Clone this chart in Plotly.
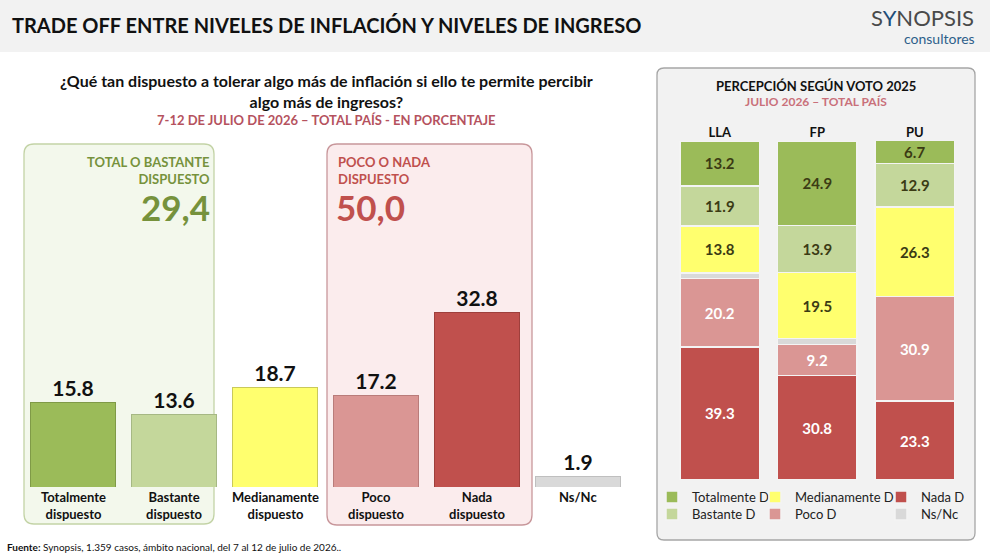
import plotly.graph_objects as go

# ---------------- data ----------------
left_cats = ["Totalmente dispuesto", "Bastante dispuesto", "Medianamente dispuesto",
             "Poco dispuesto", "Nada dispuesto", "Ns/Nc"]
left_ticks = ["Totalmente<br>dispuesto", "Bastante<br>dispuesto", "Medianamente<br>dispuesto",
              "Poco<br>dispuesto", "Nada<br>dispuesto", "Ns/Nc"]
left_vals = [15.8, 13.6, 18.7, 17.2, 32.8, 1.9]

parties = ["LLA", "FP", "PU"]
seg_names = ["Nada D", "Poco D", "Ns/Nc", "Medianamente D", "Bastante D", "Totalmente D"]
nada = [39.3, 30.8, 23.3]
poco = [20.2, 9.2, 30.9]
nsnc = [1.6, 1.7, 0.0]
mediana = [13.8, 19.5, 26.3]
bastante = [11.9, 13.9, 12.9]
totalmente = [13.2, 24.9, 6.7]

group_green_label = "TOTAL O BASTANTE<br>DISPUESTO"
group_green_value = "29,4"
group_red_label = "POCO O NADA<br>DISPUESTO"
group_red_value = "50,0"

# ---------------- styles ----------------
C_TOT, C_BAS, C_MED, C_POC, C_NAD, C_NS = "#9bbb59", "#c4d79b", "#ffff6e", "#da9694", "#c0504d", "#d9d9d9"
left_colors = [C_TOT, C_BAS, C_MED, C_POC, C_NAD, C_NS]
left_lines = ["#7f9a47", "#a6b884", "#c9c95a", "#b97c7a", "#9e3f3c", "#bfbfbf"]
W, H = 990, 556
FONT = "Lato, 'Open Sans', sans-serif"

def px(x):
    return x / W

def py(y):
    return 1 - y / H

fig = go.Figure()

# left bars
fig.add_trace(go.Bar(
    x=list(range(len(left_cats))), y=left_vals, width=0.84,
    marker=dict(color=left_colors, line=dict(color=left_lines, width=1)),
    texttemplate="<b>%{y:.1f}</b>", textposition="outside",
    textfont=dict(family=FONT, size=21, color="#111111"),
    cliponaxis=False, showlegend=False, hoverinfo="skip",
    xaxis="x", yaxis="y"))

# right stacked bars
seg_vals = [nada, poco, nsnc, mediana, bastante, totalmente]
seg_colors = [C_NAD, C_POC, C_NS, C_MED, C_BAS, C_TOT]
seg_text_col = ["white", "white", "#333333", "#3b3b14", "#3b3b14", "#3b3b14"]
# legend slot for each segment: (legend id, x of legend box, y centre) in pixels
seg_legend = [("legend3", 881, 497), ("legend5", 755, 514), ("legend6", 881, 514),
              ("legend2", 755, 497), ("legend4", 652, 514), ("legend", 652, 497)]
for name, vals, col, tcol, lg in zip(seg_names, seg_vals, seg_colors, seg_text_col, seg_legend):
    txt = ["" if (name == "Ns/Nc" or v == 0) else f"<b>{v:.1f}</b>" for v in vals]
    fig.add_trace(go.Bar(
        x=parties, y=vals, name=name, width=0.82,
        marker=dict(color=col, line=dict(color="#f4f4f4", width=1.5)),
        text=txt, textposition="inside", insidetextanchor="middle", constraintext="none",
        textfont=dict(family=FONT, size=15, color=tcol), textangle=0,
        legend=lg[0], hoverinfo="skip",
        xaxis="x2", yaxis="y2"))

def legend_at(x, y):
    return dict(orientation="v", x=px(x), y=py(y), xanchor="left", yanchor="middle",
                bgcolor="rgba(0,0,0,0)", font=dict(family=FONT, size=13, color="#222222"),
                itemclick=False, itemdoubleclick=False, itemwidth=30)

legends = {lg: legend_at(x, y) for lg, x, y in seg_legend}

# axes
fig.update_layout(
    xaxis=dict(domain=[px(22.5), px(628.5)], range=[-0.5, 5.5], visible=False, fixedrange=True),
    yaxis=dict(domain=[py(487), py(144)], range=[0, 343 / 5.32], visible=False),
    xaxis2=dict(domain=[px(671), px(963.5)], range=[-0.5, 2.5], anchor="y2",
                side="top", showline=False, showgrid=False, ticks="",
                tickmode="array", tickvals=parties, ticktext=[f"<b>{p}</b>" for p in parties],
                tickfont=dict(family=FONT, size=13, color="#111111")),
    yaxis2=dict(domain=[py(480), py(141)], range=[0, 100], visible=False, anchor="x2"),
    barmode="stack",
    width=W, height=H, margin=dict(l=0, r=0, t=0, b=0, autoexpand=False),
    paper_bgcolor="white", plot_bgcolor="rgba(0,0,0,0)",
    font=dict(family=FONT),
    **legends,
)

def rrect(x0, y0, x1, y1, r):
    X0, X1 = px(x0), px(x1)
    Y0, Y1 = py(y1), py(y0)
    rx, ry = r / W, r / H
    return (f"M{X0+rx},{Y1} L{X1-rx},{Y1} Q{X1},{Y1} {X1},{Y1-ry} "
            f"L{X1},{Y0+ry} Q{X1},{Y0} {X1-rx},{Y0} L{X0+rx},{Y0} "
            f"Q{X0},{Y0} {X0},{Y0+ry} L{X0},{Y1-ry} Q{X0},{Y1} {X0+rx},{Y1} Z")

shapes = [
    dict(type="rect", xref="paper", yref="paper", x0=0, x1=1, y0=py(52), y1=1,
         fillcolor="#f2f2f2", line=dict(width=0), layer="below"),
    dict(type="path", xref="paper", yref="paper", path=rrect(24, 144, 214, 524, 10),
         fillcolor="#f3f8ec", line=dict(color="#c3d3a6", width=1.3), layer="below"),
    dict(type="path", xref="paper", yref="paper", path=rrect(327, 144, 532, 525, 10),
         fillcolor="#fbeced", line=dict(color="#c8979b", width=1.3), layer="below"),
    dict(type="path", xref="paper", yref="paper", path=rrect(657, 68, 975, 540, 7),
         fillcolor="#f2f2f2", line=dict(color="#a6a6a6", width=1.3), layer="below"),
]
fig.update_layout(shapes=shapes)

ann = []
def A(text, x, y, size, color="#111111", xanchor="center", family=FONT, yanchor="middle", align="center"):
    ann.append(dict(text=text, x=px(x), y=py(y), xref="paper", yref="paper",
                    showarrow=False, xanchor=xanchor, yanchor=yanchor, align=align,
                    font=dict(family=family, size=size, color=color)))

# header
A("<b>TRADE OFF ENTRE NIVELES DE INFLACIÓN Y NIVELES DE INGRESO</b>", 10, 25, 20, "#111111", xanchor="left")
A("S<span style='color:#1f4e79'>Y</span>NOPSIS", 976, 17, 22, "#4a4a4a", xanchor="right")
A("consultores", 977, 38, 14, "#2e5f8a", xanchor="right")

# left titles
A("<b>¿Qué tan dispuesto a tolerar algo más de inflación si ello te permite percibir<br>algo más de ingresos?</b>",
  326, 91, 16, "#111111")
A("<b>7-12 DE JULIO DE 2026 – TOTAL PAÍS - EN PORCENTAJE</b>", 326, 120, 13, "#b5525e")

# group annotations
A(f"<b>{group_green_label}</b>", 212, 170, 13, "#76923c", xanchor="right", align="right")
A(f"<b>{group_green_value}</b>", 212, 207, 35, "#76923c", xanchor="right")
A(f"<b>{group_red_label}</b>", 336, 170, 13, "#c0504d", xanchor="left", align="left")
A(f"<b>{group_red_value}</b>", 334, 207, 35, "#c0504d", xanchor="left")

# category labels under left bars
for i, t in enumerate(left_ticks):
    ann.append(dict(text=f"<b>{t}</b>", x=i, xref="x", y=py(487), yref="paper", yanchor="top",
                    showarrow=False, align="center",
                    font=dict(family=FONT, size=13, color="#111111")))

# right panel titles
A("<b>PERCEPCIÓN SEGÚN VOTO 2025</b>", 816, 86, 13, "#111111")
A("<b>JULIO 2026 – TOTAL PAÍS</b>", 816, 102, 12, "#c9707a")

# footer
A("<b>Fuente:</b> Synopsis, 1.359 casos, ámbito nacional, del 7 al 12 de julio de 2026..", 5, 547, 10,
  "#111111", xanchor="left")

fig.update_layout(annotations=ann)
fig.write_html("out.html")
